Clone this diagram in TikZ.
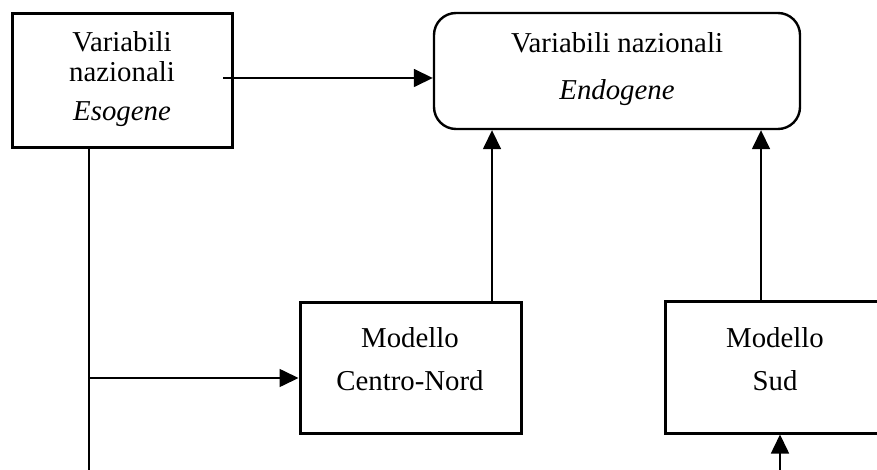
\documentclass[tikz,border=0pt]{standalone}
\usepackage{fontspec}
\setmainfont{Liberation Serif}
\usetikzlibrary{arrows.meta}
\tikzset{
  box/.style={draw, line width=3pt, rectangle, inner sep=0pt, fill=white},
  rbox/.style={draw, line width=2.4pt, rounded corners=22pt, inner sep=0pt, fill=white},
  txt/.style={anchor=base, inner sep=0pt, font=\fontsize{28.8}{30}\selectfont},
  conn/.style={line width=1.6pt},
  arr/.style={conn, -{Triangle[length=19pt,width=18pt]}}
}
\begin{document}
\begin{tikzpicture}[x=1pt,y=-1pt]
\useasboundingbox (0,0) rectangle (877,470);
\fill[white] (0,0) rectangle (877,470);
% boxes
\node[box, minimum width=220pt, minimum height=134pt] (eso) at (122,80.5) {};
\node[rbox, minimum width=366pt, minimum height=116pt] (endo) at (617,71) {};
\node[box, minimum width=221pt, minimum height=131pt] (cn) at (410.5,367.5) {};
\node[box, minimum width=220pt, minimum height=132pt] (sud) at (775,367) {};
% texts
\node[txt] (t1) at (122,52) {Variabili};
\node[txt] (t2) at (122,82) {nazionali};
\node[txt] (t3) at (122,121) {\itshape Esogene};
\node[txt] (t4) at (617,53) {Variabili nazionali};
\node[txt] (t5) at (617,100) {\itshape Endogene};
\node[txt] (t6) at (410,347) {Modello};
\node[txt] (t7) at (410,390) {Centro-Nord};
\node[txt] (t8) at (775,347) {Modello};
\node[txt] (t9) at (775,390) {Sud};
% connector coordinates
\coordinate (s1) at (223,78);
\coordinate (vbot) at (89,470);
\coordinate (vtop) at (89,148);
\coordinate (hcn) at (89,378);
\coordinate (cnup) at (492,302);
\coordinate (sudup) at (761,301);
\coordinate (sudin) at (780,470);
% connectors
\draw[arr] (s1) -- (s1 -| endo.west);
\draw[conn] (vtop) -- (vbot);
\draw[arr] (hcn) -- (hcn -| cn.west);
\draw[arr] (cnup) -- (cnup |- endo.south);
\draw[arr] (sudup) -- (sudup |- endo.south);
\draw[arr] (sudin) -- (sudin |- sud.south);
\end{tikzpicture}
\end{document}
